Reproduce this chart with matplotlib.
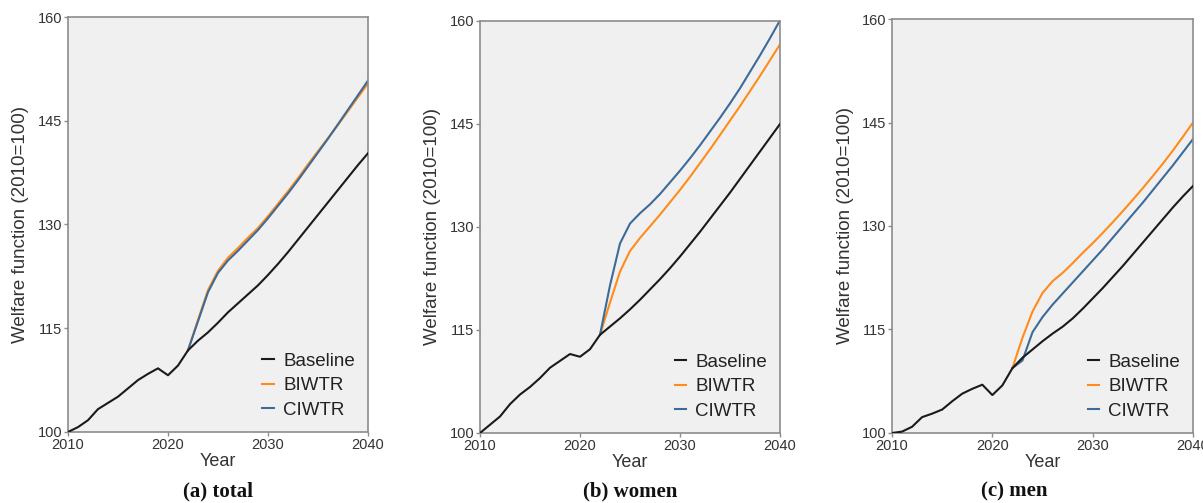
"""
Welfare function projections 2010-2040 (2010 = 100), three panels:
total, women, men.  Baseline vs BIWTR vs CIWTR reform scenarios.
"""

import numpy as np
import matplotlib
matplotlib.use("Agg")
import matplotlib.pyplot as plt

# ─────────────────────────────────────────────────────────────────
# DATA
# ─────────────────────────────────────────────────────────────────
YEARS = list(range(2010, 2041))
REFORM_YEARS = list(range(2022, 2041))

# (a) total
base_total = [100.0, 100.7, 101.7, 103.3, 104.2, 105.1, 106.3, 107.5, 108.4, 109.2,
              108.2, 109.6, 111.8, 113.2, 114.4, 115.8, 117.3, 118.6, 119.9, 121.2,
              122.7, 124.3, 126.0, 127.8, 129.6, 131.4, 133.2, 135.0, 136.8, 138.6,
              140.3]
biwtr_total = [111.8, 116.2, 120.5, 123.3, 125.2, 126.6, 128.1, 129.5, 131.2, 133.0,
               134.8, 136.7, 138.7, 140.6, 142.5, 144.4, 146.4, 148.4, 150.4]
ciwtr_total = [111.8, 116.0, 120.2, 123.0, 124.8, 126.2, 127.7, 129.2, 130.9, 132.7,
               134.5, 136.4, 138.4, 140.4, 142.4, 144.5, 146.6, 148.7, 150.8]

# (b) women
base_women = [100.0, 101.2, 102.4, 104.2, 105.6, 106.7, 108.0, 109.5, 110.5, 111.5,
              111.1, 112.2, 114.3, 115.5, 116.7, 118.0, 119.4, 120.9, 122.4, 124.0,
              125.7, 127.5, 129.3, 131.2, 133.1, 135.0, 137.0, 139.0, 141.0, 143.0,
              145.0]
biwtr_women = [114.3, 119.0, 123.5, 126.5, 128.4, 130.1, 131.8, 133.6, 135.4, 137.3,
               139.3, 141.3, 143.4, 145.5, 147.6, 149.8, 152.0, 154.3, 156.6]
ciwtr_women = [114.3, 121.5, 127.6, 130.5, 132.0, 133.3, 134.8, 136.5, 138.2, 140.0,
               141.9, 143.9, 145.9, 148.0, 150.2, 152.6, 155.0, 157.5, 160.1]

# (c) men
base_men = [100.0, 100.2, 100.9, 102.3, 102.8, 103.4, 104.6, 105.7, 106.4, 107.0,
            105.5, 106.9, 109.4, 110.9, 112.1, 113.3, 114.4, 115.4, 116.6, 118.0,
            119.5, 121.0, 122.6, 124.2, 125.9, 127.6, 129.3, 131.0, 132.7, 134.3,
            135.8]
biwtr_men = [109.4, 113.8, 117.6, 120.3, 122.0, 123.2, 124.6, 126.1, 127.5, 129.0,
             130.55, 132.15, 133.8, 135.5, 137.25, 139.05, 140.95, 142.95, 145.0]
ciwtr_men = [109.4, 110.5, 114.6, 116.8, 118.6, 120.2, 121.8, 123.4, 125.0, 126.6,
             128.3, 130.0, 131.7, 133.4, 135.2, 137.0, 138.8, 140.7, 142.6]

PANEL_TITLES = ["(a) total", "(b) women", "(c) men"]
SERIES_NAMES = ["Baseline", "BIWTR", "CIWTR"]
Y_TICKS = [100, 115, 130, 145, 160]
X_TICKS = [2010, 2020, 2030, 2040]

# ─────────────────────────────────────────────────────────────────
# STYLE
# ─────────────────────────────────────────────────────────────────
COLORS = ["#1a1a1a", "#ff8c1a", "#3d6b99"]
AX_BG = "#f0f0f0"
SPINE = "#8c8c8c"
plt.rcParams["font.family"] = ["Liberation Sans", "DejaVu Sans"]

# axes rectangles in figure fraction (left, bottom, width, height)
AX_RECTS = [
    (0.0565, 0.1412, 0.2494, 0.8250),
    (0.3990, 0.1392, 0.2494, 0.8191),
    (0.7415, 0.1392, 0.2502, 0.8230),
]
CAPTION_X = [0.181, 0.524, 0.843]

panels = [
    (base_total, biwtr_total, ciwtr_total),
    (base_women, biwtr_women, ciwtr_women),
    (base_men, biwtr_men, ciwtr_men),
]

fig = plt.figure(figsize=(12.03, 5.03), dpi=100, facecolor="white")

for i, (base, biwtr, ciwtr) in enumerate(panels):
    ax = fig.add_axes(AX_RECTS[i])
    ax.set_facecolor(AX_BG)

    ax.plot(YEARS, base, color=COLORS[0], lw=1.5, label=SERIES_NAMES[0], zorder=3)
    ax.plot(REFORM_YEARS, biwtr, color=COLORS[1], lw=1.5, label=SERIES_NAMES[1], zorder=2)
    ax.plot(REFORM_YEARS, ciwtr, color=COLORS[2], lw=1.5, label=SERIES_NAMES[2], zorder=2)

    ax.set_xlim(2010, 2040)
    ax.set_ylim(100, 160)
    ax.set_xticks(X_TICKS)
    ax.set_yticks(Y_TICKS)
    ax.tick_params(axis="both", direction="out", length=3, width=1,
                   color=SPINE, labelsize=10.5, labelcolor="#333333", pad=1)
    for sp in ax.spines.values():
        sp.set_edgecolor(SPINE)
        sp.set_linewidth(1.2)

    ax.set_xlabel("Year", fontsize=13, color="#333333", labelpad=1)
    ax.set_ylabel("Welfare function (2010=100)", fontsize=13.5, color="#333333",
                  labelpad=6)

    leg = ax.legend(loc="lower right", frameon=False, fontsize=13.5,
                    handlelength=0.6, handletextpad=0.5, labelspacing=0.4,
                    borderaxespad=0.3)
    for t in leg.get_texts():
        t.set_color("#222222")

    fig.text(CAPTION_X[i], 0.022, PANEL_TITLES[i], ha="center", va="center",
             fontsize=15, fontweight="bold", family="Liberation Serif",
             color="#111111")

fig.savefig("out.png", dpi=100, facecolor=fig.get_facecolor())
